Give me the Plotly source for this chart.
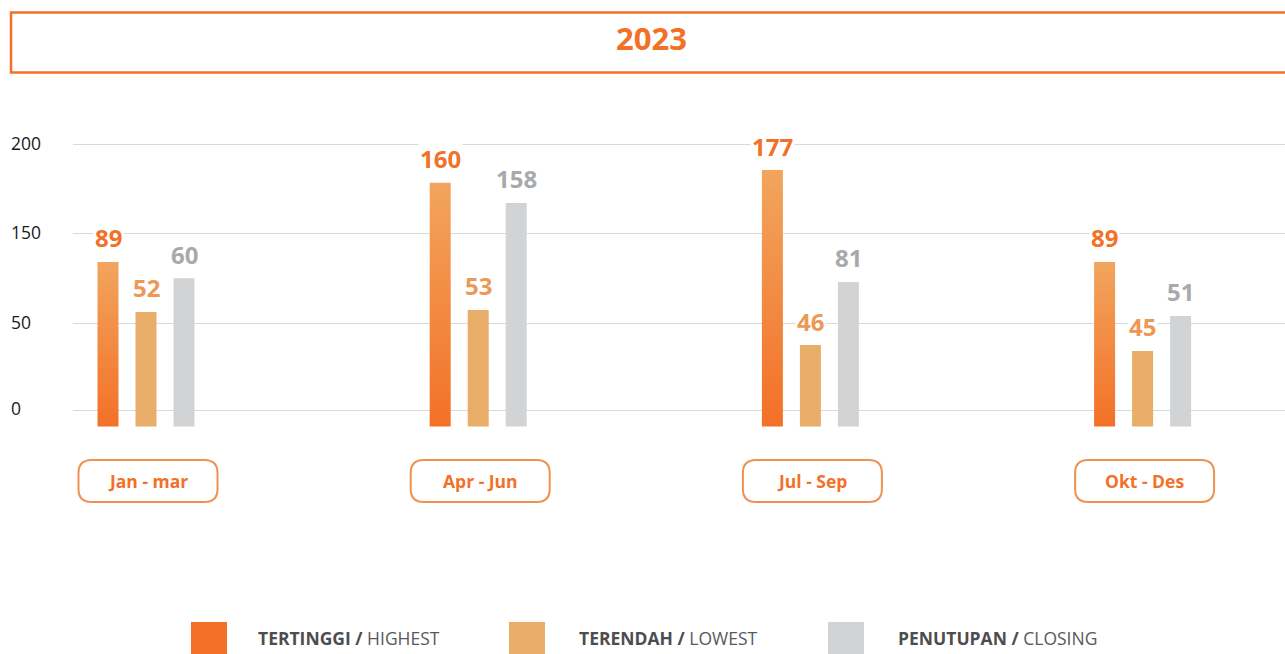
import plotly.graph_objects as go

# ---------------- data ----------------
title_text = "2023"
quarters = ["Jan - mar", "Apr - Jun", "Jul - Sep", "Okt - Des"]

# values printed above the bars
highest_labels = [89, 160, 177, 89]
lowest_labels = [52, 53, 46, 45]
closing_labels = [60, 158, 81, 51]

# bar tops, on its own axis (top gridline = 200)
highest_tops = [111.6, 171.4, 180.9, 111.6]
lowest_tops = [73.9, 75.4, 49.0, 44.5]
closing_tops = [99.3, 156.1, 96.5, 70.9]
bar_base = -12.4

# y axis gridlines and their (printed) labels
tick_positions = [0, 65.2, 132.7, 200]
tick_labels = ["0", "50", "150", "200"]

legend_bold = ["TERTINGGI /", "TERENDAH /", "PENUTUPAN /"]
legend_light = ["HIGHEST", "LOWEST", "CLOSING"]

# ---------------- style ----------------
ORANGE = "#f37027"
ORANGE_TOP = "#f2a55d"
LIGHT = "#e8ae69"
GREY = "#d1d3d4"
LOWEST_TXT = "#ee9856"
CLOSING_TXT = "#a7a9ac"
LEGEND_TXT = "#4d4d4f"
BOX_LINE = "#ef9152"
FONT = "Open Sans"

W, H = 1285, 654
ML, MR, MT, MB = 73, 0, 100, 214
PW = W - ML - MR
PH = H - MT - MB

def px_x(px):
    return (px - ML) / PW

def px_y(py):
    return (H - MB - py) / PH

GROUP_PX = 332.2            # pixels between group centres
x0 = -(146.0 - ML) / GROUP_PX
xr = [x0, x0 + PW / GROUP_PX]
u = 1.0 / GROUP_PX          # one pixel in x units
bw = 21 * u
off = 38 * u

fig = go.Figure()

xs = list(range(len(quarters)))

# highest: gradient-filled bars
for i, top in zip(xs, highest_tops):
    xl = i - off - bw / 2
    xr_ = i - off + bw / 2
    fig.add_trace(go.Scatter(
        x=[xl, xr_, xr_, xl, xl],
        y=[bar_base, bar_base, top, top, bar_base],
        mode="lines", line=dict(width=0), fill="toself",
        fillgradient=dict(type="vertical", start=bar_base, stop=top,
                          colorscale=[[0, ORANGE], [1, ORANGE_TOP]]),
        hoverinfo="skip", showlegend=False))

fig.add_trace(go.Bar(
    x=xs, y=[t - bar_base for t in lowest_tops], base=bar_base,
    width=bw, offset=-bw / 2, marker=dict(color=LIGHT, line=dict(width=0)),
    showlegend=False, hoverinfo="skip"))
fig.add_trace(go.Bar(
    x=xs, y=[t - bar_base for t in closing_tops], base=bar_base,
    width=bw, offset=off - bw / 2, marker=dict(color=GREY, line=dict(width=0)),
    showlegend=False, hoverinfo="skip"))

annotations = []
# value labels
for series, tops, dx, col in [(highest_labels, highest_tops, -off, ORANGE),
                              (lowest_labels, lowest_tops, 0, LOWEST_TXT),
                              (closing_labels, closing_tops, off, CLOSING_TXT)]:
    for i, (v, t) in enumerate(zip(series, tops)):
        annotations.append(dict(
            x=i + dx, y=t, xref="x", yref="y", text=f"<b>{v}</b>",
            showarrow=False, yanchor="middle", yshift=24,
            font=dict(family=FONT, size=24, color=col),
            bgcolor="white", borderpad=1))

# y tick labels (left aligned)
for tv, tl in zip(tick_positions, tick_labels):
    annotations.append(dict(
        x=px_x(9), y=tv, xref="paper", yref="y", text=tl, showarrow=False,
        xanchor="left", yanchor="middle", yshift=2,
        font=dict(family=FONT, size=17.5, color="#1a1a1a")))

shapes = []
# title box
shapes.append(dict(type="rect", xref="paper", yref="paper",
                   x0=px_x(11), x1=px_x(1295), y0=px_y(72.5), y1=px_y(12.5),
                   line=dict(color=ORANGE, width=2.5), fillcolor="rgba(0,0,0,0)"))
annotations.append(dict(x=px_x(651), y=px_y(38), xref="paper", yref="paper",
                        text=f"<b>{title_text}</b>", showarrow=False,
                        xanchor="center", yanchor="middle",
                        font=dict(family=FONT, size=31, color=ORANGE)))

# quarter label boxes (rounded)
hw, hh, r = 69.5, 21, 13
dxp = 2
path = (f"M {-hw + r + dxp},{-hh} L {hw - r + dxp},{-hh} "
        f"Q {hw + dxp},{-hh} {hw + dxp},{-hh + r} L {hw + dxp},{hh - r} "
        f"Q {hw + dxp},{hh} {hw - r + dxp},{hh} L {-hw + r + dxp},{hh} "
        f"Q {-hw + dxp},{hh} {-hw + dxp},{hh - r} L {-hw + dxp},{-hh + r} "
        f"Q {-hw + dxp},{-hh} {-hw + r + dxp},{-hh} Z")
for i, q in enumerate(quarters):
    shapes.append(dict(type="path", path=path, xref="x", yref="paper",
                       xsizemode="pixel", ysizemode="pixel",
                       xanchor=i, yanchor=px_y(481),
                       line=dict(color=BOX_LINE, width=2),
                       fillcolor="rgba(0,0,0,0)"))
    annotations.append(dict(x=i, y=px_y(481), xref="x", yref="paper",
                            text=f"<b>{q}</b>", showarrow=False, xshift=dxp,
                            xanchor="center", yanchor="middle",
                            font=dict(family=FONT, size=17.5, color=ORANGE)))

# custom legend
leg_sq_px = [191, 509, 828]
leg_txt_px = [256, 577, 896]
leg_cols = [ORANGE, LIGHT, GREY]
for sq, tx, col, b, l in zip(leg_sq_px, leg_txt_px, leg_cols, legend_bold, legend_light):
    shapes.append(dict(type="rect", xref="paper", yref="paper",
                       x0=px_x(sq), x1=px_x(sq + 36), y0=px_y(658), y1=px_y(622),
                       line=dict(width=0), fillcolor=col))
    annotations.append(dict(x=px_x(tx), y=px_y(637.5), xref="paper", yref="paper",
                            text=f"<b>{b}</b> <span style='color:#58595b'>{l}</span>",
                            showarrow=False, xanchor="left", yanchor="middle",
                            font=dict(family=FONT, size=17.5, color=LEGEND_TXT)))

fig.update_layout(
    width=W, height=H,
    margin=dict(l=ML, r=MR, t=MT, b=MB, pad=0),
    paper_bgcolor="white", plot_bgcolor="white",
    barmode="overlay",
    showlegend=False,
    xaxis=dict(range=xr, showgrid=False, zeroline=False, showticklabels=False,
               showline=False, fixedrange=True),
    yaxis=dict(range=[(410 - 440) / 1.3265, (410 - 100) / 1.3265],
               tickvals=tick_positions, showticklabels=False,
               showgrid=True, gridcolor="#d9d9d9", gridwidth=1,
               zeroline=False, showline=False, fixedrange=True),
    annotations=annotations,
    shapes=shapes,
)

fig.write_html("out.html", config={"displayModeBar": False},
               post_script="document.body.style.margin='0';document.body.style.overflow='hidden';")
